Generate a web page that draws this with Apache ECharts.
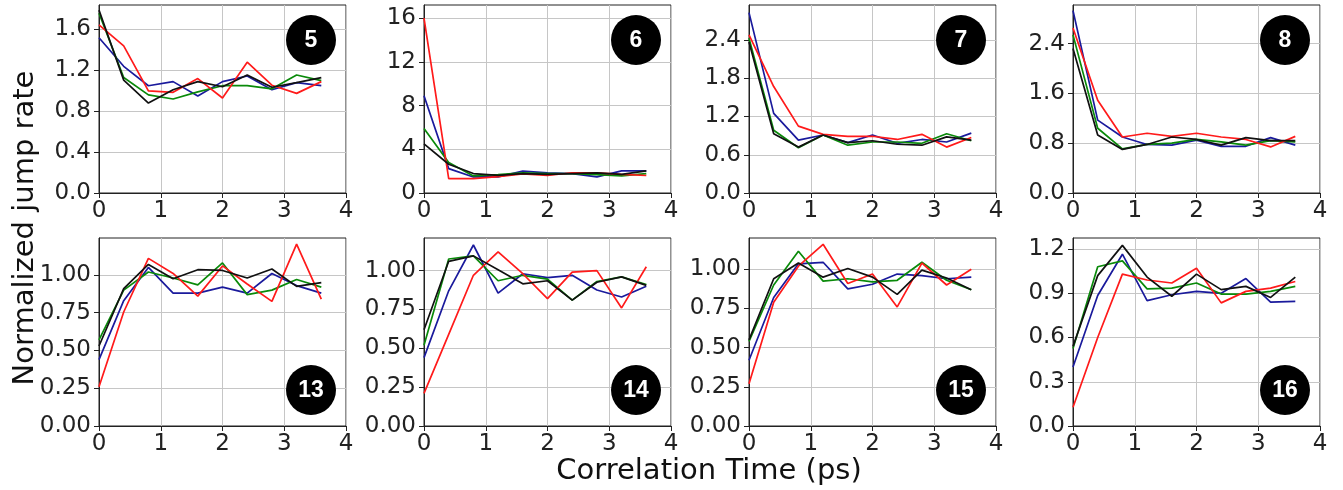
<!DOCTYPE html>
<html><head><meta charset="utf-8">
<script src="https://cdn.jsdelivr.net/npm/echarts@6/dist/echarts.min.js"></script>
<style>html,body{margin:0;padding:0;background:#fff}#c{width:1343px;height:490px}</style>
</head><body><div id="c"></div>
<script>
// Correlation time points (ps)
const times = [0, 0.4, 0.8, 1.2, 1.6, 2.0, 2.4, 2.8, 3.2, 3.6];
const xTicks = [0, 1, 2, 3, 4];

// Panel labels
const panelLabels = ['5', '6', '7', '8', '13', '14', '15', '16'];

// Panel 5
const p5Blue  = [1.52, 1.24, 1.05, 1.09, 0.95, 1.09, 1.145, 1.01, 1.08, 1.05];
const p5Green = [1.76, 1.13, 0.96, 0.92, 0.99, 1.05, 1.05, 1.02, 1.155, 1.10];
const p5Red   = [1.645, 1.44, 1.00, 0.985, 1.12, 0.93, 1.28, 1.055, 0.975, 1.09];
const p5Black = [1.79, 1.105, 0.88, 1.01, 1.09, 1.04, 1.155, 1.035, 1.08, 1.13];
// Panel 6
const p6Blue  = [8.9, 2.23, 1.47, 1.47, 2.0, 1.84, 1.78, 1.47, 2.02, 2.02];
const p6Green = [5.9, 2.78, 1.56, 1.68, 1.84, 1.78, 1.78, 1.68, 1.56, 1.78];
const p6Red   = [16.0, 1.32, 1.32, 1.5, 1.75, 1.6, 1.85, 1.85, 1.7, 1.6];
const p6Black = [4.5, 2.63, 1.78, 1.62, 1.78, 1.71, 1.78, 1.84, 1.71, 2.02];
// Panel 7
const p7Blue  = [2.83, 1.25, 0.83, 0.91, 0.79, 0.91, 0.78, 0.84, 0.80, 0.94];
const p7Green = [2.43, 0.985, 0.71, 0.91, 0.75, 0.80, 0.80, 0.78, 0.93, 0.82];
const p7Red   = [2.48, 1.67, 1.05, 0.92, 0.89, 0.89, 0.84, 0.92, 0.72, 0.87];
const p7Black = [2.37, 0.93, 0.72, 0.91, 0.79, 0.82, 0.765, 0.75, 0.88, 0.83];
// Panel 8
const p8Blue  = [2.93, 1.17, 0.90, 0.78, 0.77, 0.85, 0.75, 0.75, 0.89, 0.77];
const p8Green = [2.54, 1.04, 0.71, 0.78, 0.80, 0.86, 0.82, 0.77, 0.84, 0.82];
const p8Red   = [2.65, 1.49, 0.90, 0.96, 0.91, 0.96, 0.90, 0.86, 0.74, 0.91];
const p8Black = [2.32, 0.93, 0.70, 0.78, 0.90, 0.86, 0.77, 0.89, 0.84, 0.84];
// Panel 13
const p13Blue  = [0.44, 0.83, 1.05, 0.88, 0.88, 0.92, 0.88, 1.01, 0.93, 0.88];
const p13Green = [0.57, 0.90, 1.02, 0.98, 0.935, 1.08, 0.87, 0.90, 0.97, 0.92];
const p13Red   = [0.26, 0.755, 1.11, 1.01, 0.86, 1.06, 0.94, 0.825, 1.205, 0.84];
const p13Black = [0.53, 0.91, 1.07, 0.975, 1.035, 1.03, 0.98, 1.04, 0.925, 0.95];
// Panel 14
const p14Blue  = [0.44, 0.87, 1.165, 0.855, 0.98, 0.955, 0.97, 0.875, 0.83, 0.90];
const p14Green = [0.52, 1.075, 1.095, 0.935, 0.97, 0.945, 0.81, 0.93, 0.96, 0.91];
const p14Red   = [0.21, 0.59, 0.97, 1.12, 0.98, 0.82, 0.99, 1.00, 0.76, 1.025];
const p14Black = [0.62, 1.06, 1.095, 1.005, 0.915, 0.935, 0.81, 0.925, 0.96, 0.905];
// Panel 15
const p15Blue  = [0.42, 0.82, 1.035, 1.045, 0.875, 0.905, 0.97, 0.96, 0.94, 0.95];
const p15Green = [0.54, 0.90, 1.115, 0.925, 0.94, 0.92, 0.93, 1.045, 0.93, 0.87];
const p15Red   = [0.27, 0.79, 1.02, 1.16, 0.91, 0.97, 0.76, 1.04, 0.90, 1.00];
const p15Black = [0.55, 0.94, 1.04, 0.95, 1.005, 0.95, 0.84, 0.995, 0.945, 0.87];
// Panel 16
const p16Blue  = [0.40, 0.885, 1.165, 0.85, 0.89, 0.913, 0.90, 1.00, 0.84, 0.845];
const p16Green = [0.525, 1.08, 1.12, 0.93, 0.935, 0.97, 0.895, 0.895, 0.913, 0.947];
const p16Red   = [0.127, 0.60, 1.03, 0.99, 0.97, 1.07, 0.835, 0.913, 0.935, 0.98];
const p16Black = [0.54, 1.02, 1.225, 1.01, 0.88, 1.03, 0.925, 0.947, 0.872, 1.01];

// Y tick labels per panel
const yTicks5  = [0, 0.4, 0.8, 1.2, 1.6];
const yTicks6  = [0, 4, 8, 12, 16];
const yTicks7  = [0, 0.6, 1.2, 1.8, 2.4];
const yTicks8  = [0, 0.8, 1.6, 2.4];
const yTicks13 = [0, 0.25, 0.5, 0.75, 1.0];
const yTicks14 = [0, 0.25, 0.5, 0.75, 1.0];
const yTicks15 = [0, 0.25, 0.5, 0.75, 1.0];
const yTicks16 = [0, 0.3, 0.6, 0.9, 1.2];

const seriesColors = ['#1a1a9c', '#0a8a0a', '#ff1a1a', '#111111'];

const panels = [
  {lines: [p5Blue, p5Green, p5Red, p5Black], ticks: yTicks5, max: 1.84, dec: 1},
  {lines: [p6Blue, p6Green, p6Red, p6Black], ticks: yTicks6, max: 17.2, dec: 0},
  {lines: [p7Blue, p7Green, p7Red, p7Black], ticks: yTicks7, max: 2.95, dec: 1},
  {lines: [p8Blue, p8Green, p8Red, p8Black], ticks: yTicks8, max: 3.02, dec: 1},
  {lines: [p13Blue, p13Green, p13Red, p13Black], ticks: yTicks13, max: 1.245, dec: 2},
  {lines: [p14Blue, p14Green, p14Red, p14Black], ticks: yTicks14, max: 1.21, dec: 2},
  {lines: [p15Blue, p15Green, p15Red, p15Black], ticks: yTicks15, max: 1.2, dec: 2},
  {lines: [p16Blue, p16Green, p16Red, p16Black], ticks: yTicks16, max: 1.275, dec: 1}
];

const colLeft = [99, 424, 749, 1073];
const rowTop = [5, 238];
const gW = 247, gH = 188;
const FONT = 'DejaVu Sans';

const grids = [], xAxes = [], yAxes = [], series = [], graphics = [];
panels.forEach((p, i) => {
  const r = Math.floor(i / 4), c = i % 4;
  grids.push({left: colLeft[c], top: rowTop[r], width: gW, height: gH,
    show: true, borderColor: '#222', borderWidth: 1, backgroundColor: 'transparent', containLabel: false});
  xAxes.push({type: 'value', gridIndex: i, min: 0, max: 4, interval: 1,
    axisLine: {show: true, onZero: false, lineStyle: {color: '#222', width: 1}},
    axisTick: {show: true, inside: false, length: 5, customValues: xTicks, lineStyle: {color: '#222'}},
    axisLabel: {show: true, customValues: xTicks, color: '#222', fontSize: 23, fontFamily: FONT, margin: 7,
      formatter: v => String(Math.round(v))},
    splitLine: {show: true, lineStyle: {color: '#c6c6c6', width: 1}}
  });
  const step = p.ticks[1] - p.ticks[0];
  yAxes.push({type: 'value', gridIndex: i, min: 0, max: p.max, interval: step,
    axisLine: {show: true, lineStyle: {color: '#222', width: 1}},
    axisTick: {show: true, inside: false, length: 5, customValues: p.ticks, lineStyle: {color: '#222'}},
    axisLabel: {show: true, customValues: p.ticks, color: '#222', fontSize: 23, fontFamily: FONT, margin: 8,
      formatter: v => Number(v).toFixed(p.dec)},
    splitLine: {show: true, lineStyle: {color: '#c6c6c6', width: 1}}
  });
  p.lines.forEach((ys, k) => {
    series.push({type: 'line', xAxisIndex: i, yAxisIndex: i, showSymbol: false, silent: true,
      data: times.map((t, j) => [t, ys[j]]),
      lineStyle: {color: seriesColors[k], width: 1.7}, itemStyle: {color: seriesColors[k]},
      animation: false, z: 2 + k});
  });
  // panel badge
  const cx = colLeft[c] + gW - 35, cy = r === 0 ? rowTop[r] + 35 : rowTop[r] + gH - 36;
  graphics.push({type: 'circle', shape: {cx: cx, cy: cy, r: 25}, style: {fill: '#000'}, z: 100});
  graphics.push({type: 'text', x: cx, y: cy + 1, z: 101,
    style: {text: panelLabels[i], fill: '#fff', font: 'bold 23px "Liberation Sans", Arial, sans-serif',
      align: 'center', verticalAlign: 'middle'}});
});

graphics.push({type: 'text', x: 709, y: 471, z: 100,
  style: {text: 'Correlation Time (ps)', fill: '#111', font: '29px "DejaVu Sans"', align: 'center', verticalAlign: 'middle'}});
graphics.push({type: 'text', x: 25, y: 228, rotation: Math.PI / 2, z: 100,
  style: {text: 'Normalized jump rate', fill: '#111', font: '29px "DejaVu Sans"', align: 'center', verticalAlign: 'middle'}});

const chart = echarts.init(document.getElementById('c'), null, {renderer: 'canvas'});
chart.setOption({animation: false, backgroundColor: '#fff', grid: grids, xAxis: xAxes, yAxis: yAxes, series: series, graphic: graphics});
</script></body></html>
